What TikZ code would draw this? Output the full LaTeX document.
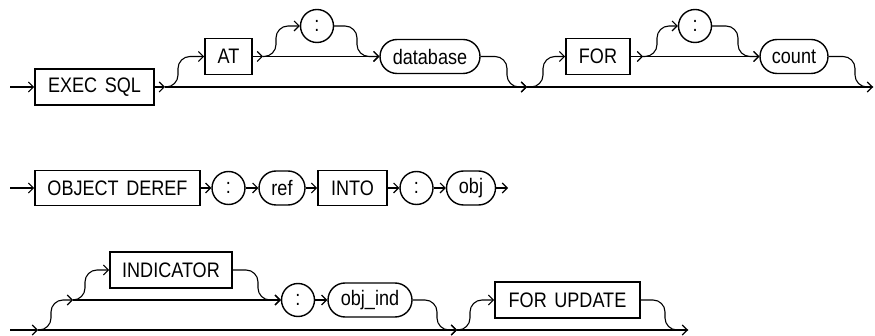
\documentclass[tikz,border=0pt]{standalone}
\usepackage{fontspec}
\setmainfont{Liberation Sans}[FakeStretch=0.86]
\usetikzlibrary{arrows.meta}
\newcommand\kwsp{\hspace{0.36em}}
\begin{document}
\begin{tikzpicture}[x=1pt,y=-1pt,
  every node/.style={font=\fontsize{21}{22}\selectfont, inner sep=0pt},
  kw/.style={draw, line width=1.6pt, minimum height=36pt},
  var/.style={draw, line width=1.4pt, rounded corners=17pt, minimum height=34pt},
  colon/.style={draw, line width=1.4pt, circle, minimum size=33pt},
  ln/.style={line width=1.1pt},
  arr/.style={ln, -{Straight Barb[length=5pt,width=10pt,line width=1.1pt]}},
  rnd/.style={rounded corners=12pt},
]
\useasboundingbox (0,0) rectangle (875,336);

% ---------- Row 1 ----------
\node[kw, minimum width=119pt] (exec) at (94.5,87) {EXEC\kwsp SQL};
\node[kw, minimum width=47pt] (at) at (228.5,56.5) {AT};
\node[colon] (c1) at (317,26) {:};
\node[var, minimum width=100pt] (db) at (430,56.5) {database};
\node[kw, minimum width=64pt] (for) at (598,56.5) {FOR};
\node[colon] (c2) at (695,26) {:};
\node[var, minimum width=68pt] (cnt) at (794,56.5) {count};

\coordinate (s1) at (10,87);
\coordinate (j1) at (165,87);
\coordinate (j3) at (263,56.5);
\coordinate (j2) at (527,87);
\coordinate (j4) at (643,56.5);
\coordinate (e1) at (873,87);

\draw[arr] (s1) -- (exec);
\draw[arr] (exec) -- (j1);
\draw[arr] (j1) -- (j2);
\draw[arr] (j2) -- (e1);
\draw[arr, rnd] (j1) -- (178,87) -- (178,56.5) -- (at);
\draw[arr] (at) -- (j3);
\draw[arr, rnd] (j3) -- (276,56.5) -- (276,26) -- (c1);
\draw[arr, rnd] (c1) -- (357,26) -- (357,56.5) -- (db);
\draw[arr] (j3) -- (db);
\draw[arr, rnd] (db) -- (507,56.5) -- (507,87) -- (j2);
\draw[arr, rnd] (j2) -- (543,87) -- (543,56.5) -- (for);
\draw[arr] (for) -- (j4);
\draw[arr, rnd] (j4) -- (657,56.5) -- (657,26) -- (c2);
\draw[arr, rnd] (c2) -- (738,26) -- (738,56.5) -- (cnt);
\draw[arr] (j4) -- (cnt);
\draw[ln, rnd] (cnt) -- (855,56.5) -- (855,87) -- (e1);

% ---------- Row 2 ----------
\node[kw, minimum width=165pt, minimum height=35pt] (od) at (117.5,188) {OBJECT\kwsp DEREF};
\node[colon] (c3) at (228.5,188) {:};
\node[var, minimum width=46pt] (ref) at (282,188) {ref};
\node[kw, minimum width=69pt, minimum height=35pt] (into) at (352.5,188) {INTO};
\node[colon] (c4) at (416.5,188) {:};
\node[var, minimum width=49pt] (obj) at (471,188) {obj};
\coordinate (s2) at (10,188);
\coordinate (e2) at (508,188);
\draw[arr] (s2) -- (od);
\draw[arr] (od) -- (c3);
\draw[arr] (c3) -- (ref);
\draw[arr] (ref) -- (into);
\draw[arr] (into) -- (c4);
\draw[arr] (c4) -- (obj);
\draw[arr] (obj) -- (e2);

% ---------- Row 3 ----------
\node[kw, minimum width=122pt] (ind) at (171,270) {INDICATOR};
\node[colon] (c5) at (298,300) {:};
\node[var, minimum width=84pt] (oi) at (370,300) {obj\_ind};
\node[kw, minimum width=145pt] (fu) at (567.5,300) {FOR\kwsp UPDATE};
\coordinate (s3) at (10,330);
\coordinate (j5) at (38,330);
\coordinate (j6) at (73,300);
\coordinate (j7) at (457,330);
\coordinate (e3) at (688,330);

\draw[arr] (s3) -- (j5);
\draw[arr, rnd] (j5) -- (51,330) -- (51,300) -- (j6);
\draw[arr, rnd] (j6) -- (85,300) -- (85,270) -- (ind);
\draw[arr] (j6) -- (c5);
\draw[arr, rnd] (ind) -- (258,270) -- (258,300) -- (c5);
\draw[arr] (c5) -- (oi);
\draw[arr, rnd] (oi) -- (437,300) -- (437,330) -- (j7);
\draw[arr] (j5) -- (j7);
\draw[arr, rnd] (j7) -- (470,330) -- (470,300) -- (fu);
\draw[ln, rnd] (fu) -- (665,300) -- (665,330) -- (e3);
\draw[arr] (j7) -- (e3);
\end{tikzpicture}
\end{document}
